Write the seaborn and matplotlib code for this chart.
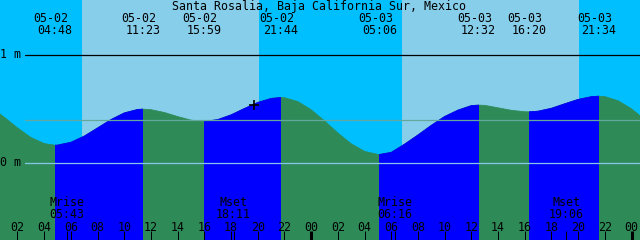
import numpy as np
import pandas as pd
import matplotlib
matplotlib.use("Agg")
import matplotlib.pyplot as plt
import matplotlib.transforms as mtransforms
from matplotlib.path import Path
import seaborn as sns

# ---------------- data ----------------
title = "Santa Rosalia, Baja California Sur, Mexico"

# tide level (m) read hourly, hours counted from 05-02 00:00
hours = list(range(0, 50))
levels = [0.512, 0.420, 0.320, 0.232, 0.175, 0.161, 0.187, 0.244, 0.320, 0.397,
          0.459, 0.491, 0.489, 0.463, 0.425, 0.392, 0.380, 0.397, 0.441, 0.500,
          0.556, 0.593, 0.600, 0.564, 0.488, 0.385, 0.273, 0.173, 0.103, 0.074,
          0.094, 0.170, 0.255, 0.344, 0.426, 0.485, 0.527, 0.529, 0.506, 0.483,
          0.470, 0.475, 0.502, 0.544, 0.584, 0.610, 0.610, 0.571, 0.496, 0.396]

# high / low tides
extreme_hours = [4.800, 11.383, 15.983, 21.733, 29.100, 36.533, 40.333, 45.567]
extreme_levels = [0.160, 0.494, 0.380, 0.602, 0.074, 0.531, 0.469, 0.614]
extreme_kinds = ["low", "high", "low", "high", "low", "high", "low", "high"]
extreme_dates = ["05-02", "05-02", "05-02", "05-02", "05-03", "05-03", "05-03", "05-03"]
extreme_times = ["04:48", "11:23", "15:59", "21:44", "05:06", "12:32", "16:20", "21:34"]

# daylight
sunrise_hours = [6.83, 30.80]
sunset_hours = [20.09, 44.06]

# moon
moon_hours = [5.717, 18.183, 30.267, 43.100]
moon_names = ["Mrise", "Mset", "Mrise", "Mset"]
moon_times = ["05:43", "18:11", "06:16", "19:06"]

# hour ticks
tick_hours = list(range(2, 49, 2))
tick_labels = ["02", "04", "06", "08", "10", "12", "14", "16", "18", "20", "22", "00",
               "02", "04", "06", "08", "10", "12", "14", "16", "18", "20", "22", "00"]
midnight_hours = [24, 48]

# reference levels
datum_levels = [0.0, 1.0]
datum_labels = ["0 m", "1 m"]
msl_level = 0.39

# current-time mark
now_hour = 19.72
now_level = 0.53

# ---------------- style ----------------
NIGHT = "#00BFFF"
DAY = "#87CEEB"
FLOOD = "#0000FF"
EBB = "#2E8B57"
INK = "#000000"

sns.set_style("white")
plt.rcParams["font.family"] = ["DejaVu Sans Mono"]
plt.rcParams["text.color"] = INK
FS = 8.4

W, H = 640, 240
fig = plt.figure(figsize=(6.4, 2.4), dpi=100)
ax = fig.add_axes([0, 0, 1, 1])

X0, X1 = 0.69, 0.69 + W / 13.35
Y0, Y1 = -(H - 162.5) / 108.0, 162.5 / 108.0
ax.set_xlim(X0, X1)
ax.set_ylim(Y0, Y1)
ax.set_facecolor(NIGHT)
for s in ax.spines.values():
    s.set_visible(False)

# day bands
for r, s in zip(sunrise_hours, sunset_hours):
    ax.axvspan(r, s, color=DAY, lw=0, zorder=0.5)

# tide curve table
df = pd.DataFrame({"t": hours + extreme_hours, "h": levels + extreme_levels})
df = df.sort_values("t").reset_index(drop=True)

# ebb (green) everywhere, flood (blue) clipped to rising intervals
ax.fill_between(df["t"], df["h"], Y0 - 1, color=EBB, lw=0, zorder=1)
sns.lineplot(data=df, x="t", y="h", color=EBB, lw=0.6, ax=ax, zorder=1.1)

flood_intervals = [(extreme_hours[i], extreme_hours[i + 1])
                   for i in range(len(extreme_hours) - 1)
                   if extreme_kinds[i] == "low" and extreme_kinds[i + 1] == "high"]
verts, codes = [], []
for a, b in flood_intervals:
    verts += [(a, Y0 - 1), (b, Y0 - 1), (b, Y1 + 1), (a, Y1 + 1), (a, Y0 - 1)]
    codes += [Path.MOVETO, Path.LINETO, Path.LINETO, Path.LINETO, Path.CLOSEPOLY]
clip = Path(verts, codes)

poly = ax.fill_between(df["t"], df["h"], Y0 - 1, color=FLOOD, lw=0, zorder=1.2)
poly.set_clip_path(clip, ax.transData)
sns.lineplot(data=df, x="t", y="h", color=FLOOD, lw=0.6, ax=ax, zorder=1.3)
ax.lines[-1].set_clip_path(clip, ax.transData)

# reference lines
line_start = 25 / W
ax.axhline(datum_levels[1], xmin=line_start, color="black", lw=0.9, zorder=3)
ax.axhline(datum_levels[0], xmin=line_start, color="#86C5EA", lw=0.9, zorder=3)
ax.axhline(msl_level, xmin=line_start, color="#62A89E", lw=0.9, zorder=3)

ylab_tr = mtransforms.blended_transform_factory(ax.transAxes, ax.transData)
for lv, lab in zip(datum_levels, datum_labels):
    ax.text(0.5 / W, lv, lab, transform=ylab_tr, ha="left", va="center",
            fontsize=FS, color=INK, zorder=4)

# now mark
ax.plot([now_hour], [now_level], marker="+", ms=7, mew=1.2, color=INK,
        ls="none", zorder=4)

# top labels
fig.text(319 / W, (H - 10) / H, title, ha="center", va="baseline", fontsize=FS,
         color=INK)
pix_tr = mtransforms.blended_transform_factory(ax.transData, mtransforms.IdentityTransform())
for t, d, tm in zip(extreme_hours, extreme_dates, extreme_times):
    ax.annotate(d, xy=(t, H - 22), xycoords=pix_tr, xytext=(-4, 0),
                textcoords="offset pixels", ha="center", va="baseline",
                fontsize=FS, color=INK, annotation_clip=False, zorder=5)
    ax.annotate(tm, xy=(t, H - 34), xycoords=pix_tr, xytext=(0, 0),
                textcoords="offset pixels", ha="center", va="baseline",
                fontsize=FS, color=INK, annotation_clip=False, zorder=5)

# moon labels
for t, nm, tm in zip(moon_hours, moon_names, moon_times):
    ax.annotate(nm, xy=(t, H - 206), xycoords=pix_tr, ha="center", va="baseline",
                fontsize=FS, color=INK, annotation_clip=False, zorder=5)
    ax.annotate(tm, xy=(t, H - 217.5), xycoords=pix_tr, ha="center", va="baseline",
                fontsize=FS, color=INK, annotation_clip=False, zorder=5)

# ticks
ax.set_xticks(tick_hours)
ax.set_xticklabels(tick_labels)
ax.set_xticks(moon_hours, minor=True)
ax.set_yticks([])
ax.set_xlabel("")
ax.set_ylabel("")
ax.tick_params(axis="x", which="both", direction="in", length=6.5, width=0.72,
               color=INK, bottom=True, top=False, zorder=6)
ax.tick_params(axis="x", which="major", pad=-13.6, labelsize=FS, labelcolor=INK)
for tk, th in zip(ax.xaxis.get_major_ticks(), tick_hours):
    if th in midnight_hours:
        tk.tick1line.set_markeredgewidth(2.2)
ax.set_axisbelow(False)

fig.savefig("out.png", dpi=100)
